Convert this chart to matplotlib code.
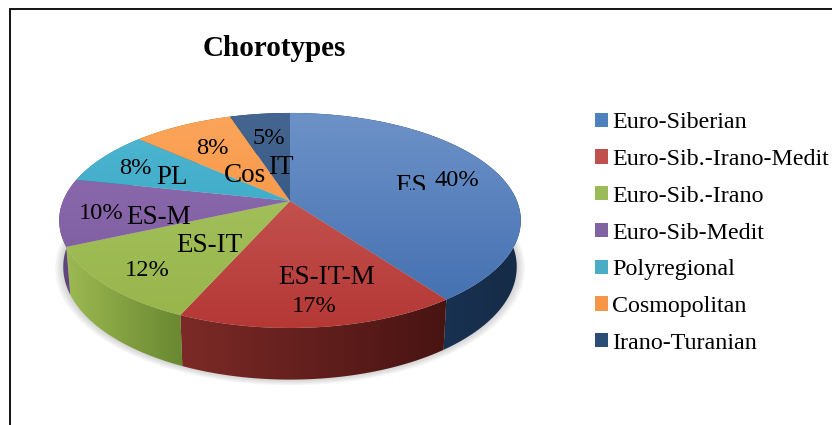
import numpy as np
import matplotlib
matplotlib.use('Agg')
import matplotlib.pyplot as plt
from matplotlib.colors import to_rgb
from matplotlib.patches import Patch, Polygon, Rectangle
from matplotlib.transforms import Transform

plt.rcParams['font.family'] = ['Liberation Serif', 'DejaVu Serif']

# Chart data
names = ['Euro-Siberian', 'Euro-Sib.-Irano-Medit', 'Euro-Sib.-Irano', 'Euro-Sib-Medit',
         'Polyregional', 'Cosmopolitan', 'Irano-Turanian']
short_names = ['ES', 'ES-IT-M', 'ES-IT', 'ES-M', 'PL', 'Cos', 'IT']
values = [40, 16.6, 11.7, 10.1, 8.2, 8.4, 5]

# Colours: top face light/dark, wall left/right, legend
top_light = ['#6d92c8', '#cb625e', '#a9c664', '#906fb0', '#4fb7d2', '#fba55a', '#456690']
top_dark = ['#3f6dae', '#b53835', '#97b54a', '#7a579d', '#30a0bf', '#f48b36', '#294a75']
wall_left = ['#213f66', '#7c2a27', '#9db952', '#5f457c', '#1f6b80', '#a85f22', '#1b3050']
wall_right = ['#152b47', '#481412', '#698830', '#5f457c', '#1f6b80', '#a85f22', '#1b3050']
legend_colors = ['#4f81bd', '#c0504d', '#9bbb59', '#8064a2', '#4bacc6', '#f79646', '#2c4d75']

# Label centres in picture pixels
name_pos = [(411, 193), (327, 277), (209, 245), (159, 217), (172, 177), (245, 175), (281, 168)]
pct_pos = [(457, 180), (314, 306), (147, 270), (101, 213), (135, 168), (212, 149), (269, 138)]


class Tilt(Transform):
    # perspective view of the unit-circle pie, output in picture pixels
    input_dims = 2
    output_dims = 2

    def __init__(self, a=227.0, b=104.0, k=0.181, cx=290.0, cy=201.0):
        super().__init__()
        self.a, self.b, self.k, self.cx, self.cy = a, b, k, cx, cy

    def transform_non_affine(self, xy):
        xy = np.asarray(xy, dtype=float)
        w = 1 + self.k * xy[:, 1]
        return np.column_stack([self.cx + self.a * xy[:, 0] / w, self.cy - self.b * xy[:, 1] / w])


def gradient(c1, c2, horizontal=False, n=128):
    t = np.linspace(0, 1, n)[:, None]
    arr = (1 - t) * np.array(to_rgb(c1)) + t * np.array(to_rgb(c2))
    return arr[None, :, :] if horizontal else arr[:, None, :]


fig = plt.figure(figsize=(8.32, 4.25), dpi=100)
ax = fig.add_axes([0, 0, 1, 1])

top_view = Tilt()
base_view = Tilt(a=223.0, b=109.0, cy=246.5)

wedges, _ = ax.pie(values, startangle=90, counterclock=False, radius=1)
ax.set_aspect('auto')

# soft shadow round the base
ring = np.radians(np.linspace(0, 360, 200))
unit = np.column_stack([np.cos(ring), np.sin(ring)])
for grow in np.linspace(1.035, 1.0, 7):
    ax.add_patch(Polygon(base_view.transform_non_affine(unit * grow), closed=True,
                         fc='#808080', ec='none', alpha=0.06, zorder=1))

# walls first, then the faces on top of them
for i, w in enumerate(wedges):
    ang = np.radians(np.linspace(w.theta1, w.theta2, 80))
    rim = np.column_stack([np.cos(ang), np.sin(ang)])
    upper = top_view.transform_non_affine(rim)
    lower = base_view.transform_non_affine(rim)
    outline = np.vstack([upper, lower[::-1]])
    wall = Polygon(outline, closed=True, fc='none', ec='none', zorder=2)
    ax.add_patch(wall)
    x0, x1 = outline[:, 0].min(), outline[:, 0].max()
    img = ax.imshow(gradient(wall_left[i], wall_right[i], horizontal=True), aspect='auto',
                    extent=(x0, x1, 400, 100), zorder=2)
    img.set_clip_path(wall)

for i, w in enumerate(wedges):
    w.set_transform(top_view + ax.transData)
    w.set_facecolor('none')
    w.set_edgecolor('none')
    w.set_zorder(3)
    img = ax.imshow(gradient(top_light[i], top_dark[i]), aspect='auto',
                    extent=(50, 530, 328, 113), origin='upper', zorder=3)
    img.set_clip_path(w)

# frame: only the top and left rules
ax.plot([9.5, 9.5, 832], [425, 8.5, 8.5], color='black', lw=1.3, zorder=6, solid_joinstyle='miter')

for i, (name, v) in enumerate(zip(short_names, values)):
    t = ax.text(*name_pos[i], name, fontsize=19.5, ha='center', va='baseline' if i == 0 else 'center', zorder=5)
    if i == 0:
        # this label is cut off along its lower edge
        clip = Rectangle((380, 160), 60, 30, transform=ax.transData)
        t.set_clip_path(clip)
        t.set_clip_on(True)
    ax.text(*pct_pos[i], f'{v:.0f}%', fontsize=17.6, ha='center', va='center', zorder=5)

ax.text(274, 48, 'Chorotypes', fontsize=21, fontweight='bold', ha='center', va='center', zorder=5)

handles = [Patch(fc=c, ec='none', label=n) for c, n in zip(legend_colors, names)]
ax.legend(handles=handles, loc='upper left', bbox_to_anchor=(585.4 / 832, 1 - 102.7 / 425),
          frameon=False, fontsize=17.3, handlelength=0.54, handleheight=0.54, handletextpad=0.17,
          labelspacing=0.655, borderpad=0.4, borderaxespad=0)

ax.set_xlim(0, 832)
ax.set_ylim(425, 0)
ax.axis('off')

fig.savefig('out.png', dpi=100, facecolor='white')
